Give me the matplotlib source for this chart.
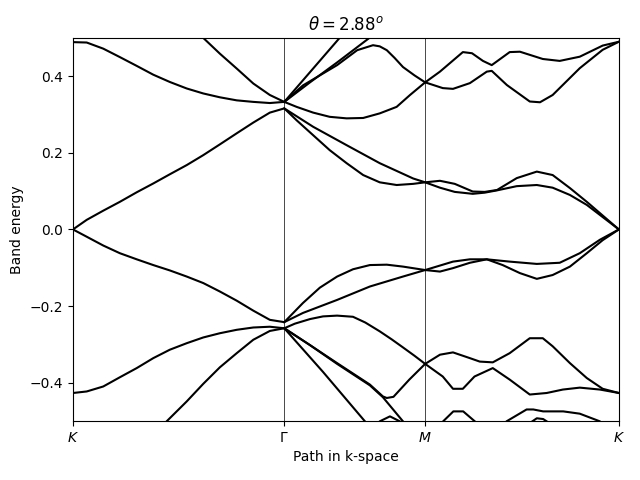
import matplotlib
matplotlib.use("Agg")
import matplotlib.pyplot as plt

# high symmetry points, as k-point index along the path
sym_k = [0, 60, 100, 155]
sym_labels = [r'$K$', r'$\Gamma$', r'$M$', r'$K$']
theta = 2.88

# conduction bands
k_c1 = [0, 3.9, 8.6, 13.3, 18.1, 22.8, 27.5, 32.3, 37, 41.7, 46.5, 51.2, 55.9, 60,
        63.5, 68.2, 72.9, 77.7, 82.4, 87.1, 91.9, 96.6, 100,
        104.2, 108.4, 113.5, 116.9, 120.4, 126, 131.7, 136.2, 141.1, 145.9, 155]
e_c1 = [0.0, 0.025, 0.049, 0.072, 0.097, 0.120, 0.144, 0.168, 0.194, 0.222, 0.251, 0.279, 0.305, 0.316,
        0.285, 0.246, 0.207, 0.173, 0.142, 0.123, 0.116, 0.119, 0.123,
        0.109, 0.098, 0.093, 0.096, 0.102, 0.113, 0.116, 0.109, 0.090, 0.064, 0.0]

k_c2 = [60, 68.2, 77.7, 87.1, 96.6, 100, 104.2, 108.4, 113.5, 116.9, 120.4, 126, 131.7, 136.2, 141.1, 145.9, 155]
e_c2 = [0.316, 0.268, 0.220, 0.173, 0.133, 0.123, 0.127, 0.119, 0.099, 0.098, 0.103, 0.134, 0.151, 0.142, 0.108, 0.072, 0.0]

k_c3 = [0, 3.9, 8.6, 13.3, 18.1, 22.8, 27.5, 32.3, 37, 41.7, 46.5, 51.2, 55.9, 60,
        63.5, 68.2, 72.9, 77.7, 82.4, 87.1, 91.9, 95.7, 100,
        104.2, 110.7, 113.3, 116.4, 118.9, 124, 126.9, 133.4, 138.2, 143.9, 150.4, 155]
e_c3 = [0.489, 0.488, 0.472, 0.450, 0.427, 0.404, 0.385, 0.368, 0.355, 0.345, 0.337, 0.333, 0.330, 0.333,
        0.320, 0.305, 0.294, 0.290, 0.291, 0.303, 0.320, 0.351, 0.384,
        0.412, 0.463, 0.460, 0.440, 0.429, 0.463, 0.464, 0.445, 0.440, 0.451, 0.480, 0.490]

k_c4 = [60, 65.3, 75, 80.7, 85.2, 87.1, 89.1, 91.3, 93.7, 97, 100,
        105, 107.9, 112.7, 117.5, 118.9, 123.2, 129.7, 132.6, 136.2, 143.9, 150.4, 155]
e_c4 = [0.333, 0.376, 0.429, 0.468, 0.481, 0.478, 0.468, 0.448, 0.424, 0.402, 0.384,
        0.369, 0.367, 0.382, 0.412, 0.414, 0.377, 0.334, 0.332, 0.351, 0.421, 0.469, 0.490]

k_c5 = [30, 37, 41.7, 46.5, 51.2, 55.9, 60]
e_c5 = [0.56, 0.500, 0.459, 0.420, 0.381, 0.351, 0.333]

k_c6 = [60, 75.8, 82]
e_c6 = [0.333, 0.501, 0.545]

k_c7 = [60, 67.3, 75, 84.3, 90]
e_c7 = [0.333, 0.384, 0.436, 0.501, 0.54]

# valence bands
k_v1 = [0, 3.9, 8.6, 13.3, 18.1, 22.8, 27.5, 32.3, 37, 41.7, 46.5, 51.2, 55.9, 60,
        65.3, 70.1, 75, 79.5, 84.3, 89.1, 93.7, 100,
        104.2, 107.9, 112.7, 117.5, 122, 126.9, 131.7, 136.2, 141.1, 145.9, 150.4, 155]
e_v1 = [0.0, -0.019, -0.042, -0.062, -0.078, -0.093, -0.107, -0.123, -0.140, -0.162, -0.186, -0.212, -0.236, -0.242,
        -0.192, -0.152, -0.123, -0.104, -0.093, -0.092, -0.097, -0.106,
        -0.110, -0.101, -0.087, -0.078, -0.093, -0.114, -0.129, -0.119, -0.097, -0.062, -0.028, 0.0]

k_v2 = [60, 65.3, 75, 84.3, 93.7, 100, 107.9, 112.7, 117.5, 124, 131.7, 138.2, 143.9, 149.6, 155]
e_v2 = [-0.242, -0.218, -0.184, -0.149, -0.123, -0.106, -0.084, -0.078, -0.078, -0.084, -0.090, -0.087, -0.062, -0.027, 0.0]

k_v3 = [0, 3.9, 8.6, 13.3, 18.1, 22.8, 27.5, 32.3, 37, 41.7, 46.5, 51.2, 55.9, 60,
        63, 67.3, 71, 75, 79.5, 83, 87.1, 90.5, 93.7, 97, 100,
        105, 107.9, 110.7, 114, 119.2, 124, 129.7, 134.5, 139.1, 143.9, 149.6, 155]
e_v3 = [-0.427, -0.423, -0.410, -0.386, -0.362, -0.336, -0.314, -0.297, -0.282, -0.271, -0.262, -0.256, -0.254, -0.258,
        -0.246, -0.234, -0.227, -0.225, -0.228, -0.243, -0.266, -0.287, -0.308, -0.330, -0.351,
        -0.384, -0.416, -0.416, -0.384, -0.362, -0.392, -0.431, -0.427, -0.418, -0.413, -0.418, -0.427]

k_v4 = [21, 26.6, 32.3, 37, 41.7, 46.5, 51.2, 55.9, 60,
        67.3, 75, 84.3, 88, 89.1, 91, 95.5, 100,
        104.2, 107.9, 112.7, 115.5, 119.2, 124, 129.7, 133.4, 136.2, 141.1, 145.9, 150.4, 155]
e_v4 = [-0.56, -0.501, -0.449, -0.403, -0.360, -0.323, -0.288, -0.265, -0.258,
        -0.302, -0.349, -0.405, -0.436, -0.440, -0.437, -0.392, -0.351,
        -0.327, -0.321, -0.336, -0.345, -0.347, -0.323, -0.284, -0.284, -0.305, -0.349, -0.388, -0.416, -0.427]

k_v5 = [60, 67.3, 75, 84.3, 88, 93.7, 97]
e_v5 = [-0.258, -0.302, -0.351, -0.407, -0.438, -0.501, -0.54]

k_v6 = [60, 71, 82.9, 86]
e_v6 = [-0.258, -0.372, -0.501, -0.535]

# small pieces poking in at the bottom
k_b1 = [84.5, 87.1, 90, 92.8, 95.5]
e_b1 = [-0.53, -0.501, -0.488, -0.501, -0.53]
k_b2 = [103, 105.1, 108, 110.8, 114.6, 116.5]
e_b2 = [-0.53, -0.501, -0.475, -0.475, -0.505, -0.53]
k_b3 = [121, 123.1, 128.8, 130.7, 133.5, 139.2, 143.9, 149.6, 152]
e_b3 = [-0.53, -0.501, -0.470, -0.470, -0.475, -0.475, -0.481, -0.501, -0.53]
k_b4 = [129, 131.7, 133.5, 136]
e_b4 = [-0.51, -0.493, -0.495, -0.51]

bands = [(k_c1, e_c1), (k_c2, e_c2), (k_c3, e_c3), (k_c4, e_c4), (k_c5, e_c5), (k_c6, e_c6), (k_c7, e_c7),
         (k_v1, e_v1), (k_v2, e_v2), (k_v3, e_v3), (k_v4, e_v4), (k_v5, e_v5), (k_v6, e_v6),
         (k_b1, e_b1), (k_b2, e_b2), (k_b3, e_b3), (k_b4, e_b4)]

fig = plt.figure(figsize=(6.4, 4.8), dpi=100)
ax = fig.add_subplot(111)
fig.subplots_adjust(left=0.114, right=0.967, top=0.921, bottom=0.123)

for k, e in bands:
    ax.plot(k, e, color='k', lw=1.5)

for x in sym_k[1:-1]:
    ax.axvline(x, color='k', lw=0.5)

ax.set_xlim(sym_k[0], sym_k[-1])
ax.set_ylim(-0.5, 0.5)
ax.set_xticks(sym_k)
ax.set_xticklabels(sym_labels)
ax.set_xlabel('Path in k-space')
ax.set_ylabel('Band energy')
ax.set_title(r'$\theta = %.2f^o$' % theta)

fig.savefig('out.png', dpi=100)
